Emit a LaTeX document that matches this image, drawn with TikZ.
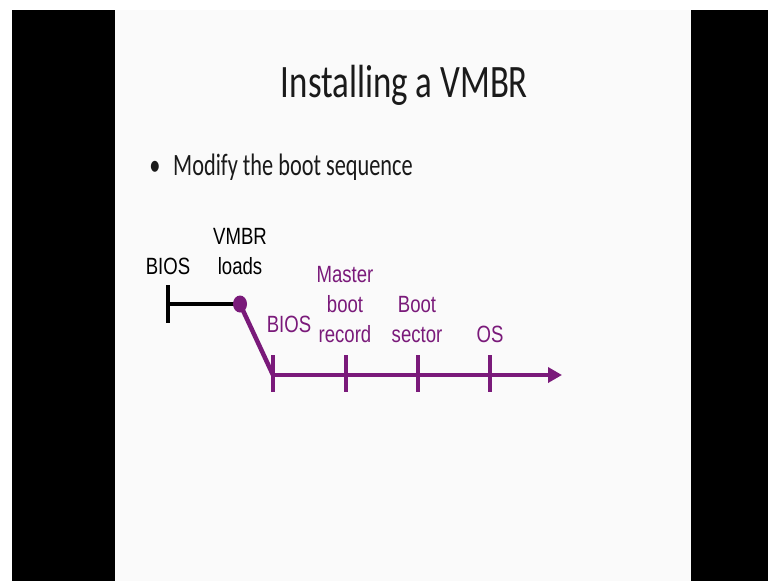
\documentclass[tikz,border=0pt]{standalone}
\usepackage{fontspec}
\setmainfont{Carlito}
\newfontfamily\titlefont[FakeStretch=0.75]{Carlito}
\newfontfamily\bodyfont[FakeStretch=0.72]{Carlito}
\newfontfamily\tlfont[FakeStretch=0.79]{Liberation Sans}
\usetikzlibrary{arrows.meta, calc}
\definecolor{bootpurple}{HTML}{7A1A7A}
\definecolor{slidebg}{HTML}{FAFAFA}
\definecolor{slidetext}{HTML}{1A1A1A}

\begin{document}
\begin{tikzpicture}[x=1pt, y=-1pt, >={Triangle[length=14pt,width=15pt]},
  tl/.style={font=\tlfont\fontsize{23.5}{30}\selectfont, align=center, inner sep=0pt, anchor=base},
  ptl/.style={tl, text=bootpurple},
  pline/.style={bootpurple, line width=4.5pt},
  bline/.style={black, line width=4.5pt}]

% frame of the slide
\useasboundingbox (0,0) rectangle (768,581);
\fill[white] (0,0) rectangle (768,581);
\fill[black] (12,10) rectangle (768,581);
\fill[slidebg] (115,10) rectangle (691,581);

\node[font=\titlefont\fontsize{46.5}{50}\selectfont, text=slidetext, anchor=base, inner sep=0pt] (title) at (404.5,97) {Installing a VMBR};
\node[font=\bodyfont\fontsize{31}{36}\selectfont, text=slidetext, anchor=base, inner sep=0pt] (dot) at (155,175) {\textbullet};
\node[font=\bodyfont\fontsize{31}{36}\selectfont, text=slidetext, anchor=base west, inner sep=0pt] (bullet) at (173,175) {Modify the boot sequence};

% old sequence
\coordinate (bios0) at (168,304);
\coordinate (vmbr) at (240,304);
\draw[bline] ($(bios0)+(0,-19)$) -- ($(bios0)+(0,19)$);
\draw[bline] (bios0) -- (vmbr);
\node[tl] (lbios0) at (168,274) {BIOS};
\node[tl] (lvmbr) at (240,274) {VMBR\\loads};

% new sequence
\coordinate (t1) at (273,375);
\coordinate (t2) at (346,375);
\coordinate (t3) at (418,375);
\coordinate (t4) at (490,375);
\coordinate (tip) at (562,375);
\draw[pline] (vmbr) -- (t1);
\fill[bootpurple] (vmbr) ellipse (7pt and 8.5pt);
\draw[pline,->] (t1) -- (tip);
\foreach \t in {t1,t2,t3,t4}
  \draw[pline] ($(\t)+(0,-20)$) -- ($(\t)+(0,17)$);

\node[ptl] (lbios) at (289,332) {BIOS};
\node[ptl] (lmbr) at (345,342) {Master\\boot\\record};
\node[ptl] (lboot) at (417,342) {Boot\\sector};
\node[ptl] (los) at (490,342) {OS};

\end{tikzpicture}
\end{document}
